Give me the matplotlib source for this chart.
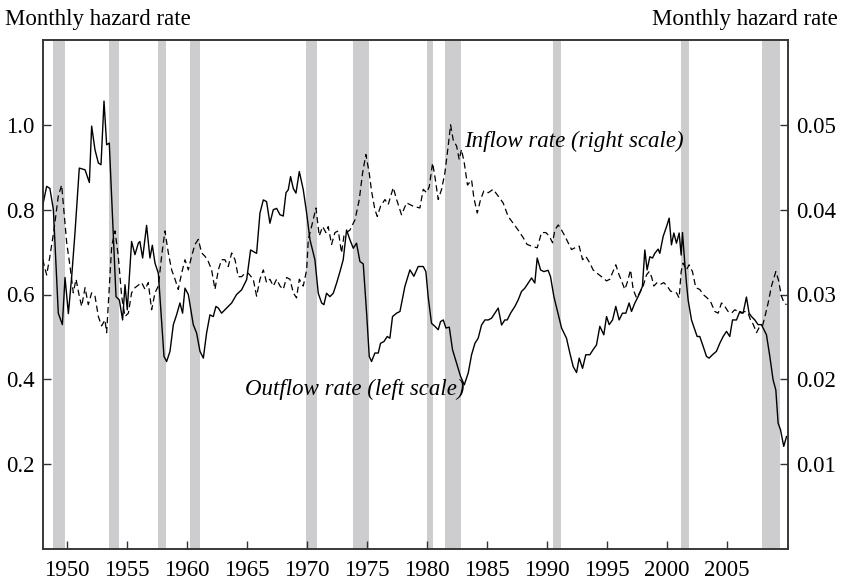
import matplotlib
matplotlib.use("Agg")
import matplotlib.pyplot as plt

plt.rcParams['font.family'] = 'serif'
plt.rcParams['font.serif'] = ['Liberation Serif', 'DejaVu Serif']

# Outflow rate (left scale)
out_years = [1948.0, 1948.33, 1948.6, 1948.89, 1949.3, 1949.64, 1949.86, 1950.14, 1950.41, 1950.69,
             1951.05, 1951.53, 1951.89, 1952.08, 1952.36, 1952.64, 1952.86, 1953.11, 1953.33, 1953.55,
             1953.83, 1954.11, 1954.39, 1954.66, 1954.86, 1955.05, 1955.41, 1955.69, 1955.97, 1956.1,
             1956.33, 1956.66, 1956.94, 1957.14, 1957.36, 1957.64, 1958.11, 1958.33, 1958.61, 1958.89,
             1959.16, 1959.44, 1959.66, 1959.86, 1960.14, 1960.55, 1960.83, 1961.11, 1961.39, 1961.66,
             1961.94, 1962.22, 1962.44, 1962.64, 1962.91, 1963.33, 1963.75, 1964.16, 1964.58, 1965.0,
             1965.33, 1965.83, 1966.11, 1966.39, 1966.66, 1966.94, 1967.22, 1967.5, 1967.78, 1968.05,
             1968.28, 1968.47, 1968.66, 1968.89, 1969.11, 1969.39, 1969.72, 1970.0, 1970.28, 1970.69,
             1970.97, 1971.25, 1971.44, 1971.66, 1971.94, 1972.22, 1972.5, 1972.78, 1973.05, 1973.33,
             1973.61, 1973.89, 1974.16, 1974.44, 1974.72, 1975.0, 1975.22, 1975.41, 1975.69, 1975.97,
             1976.16, 1976.44, 1976.72, 1976.94, 1977.16, 1977.5, 1977.78, 1978.19, 1978.61, 1978.94,
             1979.3, 1979.72, 1979.94, 1980.13, 1980.41, 1980.69, 1980.97, 1981.16, 1981.39, 1981.61,
             1981.89, 1982.16, 1982.5, 1982.83, 1983.14, 1983.47, 1983.75, 1984.03, 1984.3, 1984.58,
             1984.86, 1985.14, 1985.41, 1985.69, 1985.97, 1986.25, 1986.52, 1986.72, 1987.0, 1987.36,
             1987.63, 1987.91, 1988.19, 1988.47, 1988.75, 1989.02, 1989.22, 1989.5, 1989.77, 1990.13,
             1990.33, 1990.61, 1990.88, 1991.25, 1991.66, 1991.94, 1992.22, 1992.5, 1992.72, 1993.0,
             1993.27, 1993.61, 1993.88, 1994.16, 1994.44, 1994.77, 1995.0, 1995.22, 1995.5, 1995.77,
             1996.05, 1996.33, 1996.61, 1996.88, 1997.08, 1997.36, 1997.63, 1997.99, 1998.19, 1998.38,
             1998.61, 1998.83, 1999.02, 1999.3, 1999.44, 1999.72, 2000.0, 2000.22, 2000.41, 2000.61,
             2000.83, 2001.05, 2001.22, 2001.33, 2001.52, 2001.66, 2001.8, 2002.08, 2002.36, 2002.55,
             2002.77, 2003.05, 2003.33, 2003.55, 2003.83, 2004.16, 2004.44, 2004.72, 2005.0, 2005.27,
             2005.5, 2005.83, 2006.11, 2006.38, 2006.66, 2006.88, 2007.08, 2007.36, 2007.63, 2007.91,
             2008.33, 2008.61, 2008.88, 2009.11, 2009.3, 2009.5, 2009.77, 2010.0]
outflow = [0.81, 0.855, 0.85, 0.80, 0.556, 0.529, 0.64, 0.555, 0.64, 0.745,
           0.898, 0.894, 0.864, 0.997, 0.941, 0.91, 0.906, 1.056, 0.953, 0.957,
           0.776, 0.595, 0.587, 0.54, 0.623, 0.564, 0.725, 0.694, 0.721, 0.725,
           0.686, 0.763, 0.686, 0.716, 0.674, 0.65, 0.454, 0.442, 0.466, 0.529,
           0.552, 0.58, 0.556, 0.615, 0.60, 0.529, 0.509, 0.466, 0.45, 0.509,
           0.552, 0.548, 0.572, 0.568, 0.556, 0.568, 0.58, 0.60, 0.611, 0.635,
           0.705, 0.697, 0.792, 0.823, 0.819, 0.768, 0.80, 0.803, 0.788, 0.785,
           0.84, 0.847, 0.878, 0.85, 0.839, 0.89, 0.847, 0.792, 0.729, 0.682,
           0.603, 0.58, 0.576, 0.603, 0.595, 0.603, 0.627, 0.654, 0.682, 0.752,
           0.729, 0.709, 0.721, 0.678, 0.672, 0.556, 0.454, 0.442, 0.462, 0.462,
           0.485, 0.489, 0.501, 0.497, 0.548, 0.556, 0.56, 0.619, 0.658, 0.643,
           0.666, 0.666, 0.654, 0.595, 0.532, 0.525, 0.517, 0.536, 0.54, 0.521,
           0.523, 0.47, 0.438, 0.407, 0.387, 0.415, 0.458, 0.485, 0.497, 0.528,
           0.54, 0.54, 0.544, 0.556, 0.568, 0.528, 0.54, 0.54, 0.556, 0.572,
           0.587, 0.607, 0.615, 0.627, 0.639, 0.627, 0.686, 0.658, 0.654, 0.657,
           0.642, 0.595, 0.564, 0.521, 0.497, 0.462, 0.43, 0.416, 0.45, 0.426,
           0.458, 0.458, 0.47, 0.481, 0.525, 0.505, 0.548, 0.529, 0.54, 0.572,
           0.54, 0.556, 0.556, 0.58, 0.56, 0.58, 0.595, 0.619, 0.705, 0.658,
           0.689, 0.686, 0.697, 0.707, 0.697, 0.737, 0.76, 0.78, 0.717, 0.745,
           0.721, 0.745, 0.693, 0.746, 0.674, 0.627, 0.587, 0.54, 0.517, 0.501,
           0.501, 0.478, 0.454, 0.45, 0.458, 0.466, 0.485, 0.501, 0.513, 0.501,
           0.54, 0.54, 0.56, 0.556, 0.594, 0.556, 0.548, 0.54, 0.529, 0.529,
           0.505, 0.454, 0.399, 0.375, 0.297, 0.281, 0.242, 0.265]

# Inflow rate (right scale)
in_years = [1948.0, 1948.33, 1948.6, 1948.94, 1949.3, 1949.58, 1949.78, 1950.0, 1950.28, 1950.55,
            1950.78, 1951.05, 1951.25, 1951.53, 1951.8, 1952.08, 1952.36, 1952.64, 1952.91, 1953.19,
            1953.33, 1953.75, 1954.03, 1954.3, 1954.58, 1954.86, 1955.14, 1955.41, 1955.69, 1956.25,
            1956.53, 1956.8, 1957.08, 1957.36, 1957.64, 1957.91, 1958.19, 1958.47, 1958.75, 1959.03,
            1959.3, 1959.58, 1959.86, 1960.14, 1960.41, 1960.69, 1960.97, 1961.25, 1961.53, 1961.8,
            1962.08, 1962.36, 1962.64, 1962.91, 1963.19, 1963.47, 1963.75, 1964.03, 1964.3, 1964.58,
            1964.86, 1965.14, 1965.55, 1965.83, 1966.11, 1966.39, 1966.66, 1966.94, 1967.22, 1967.5,
            1967.78, 1968.05, 1968.33, 1968.61, 1968.89, 1969.16, 1969.39, 1969.72, 1970.0, 1970.14,
            1970.41, 1970.78, 1971.05, 1971.33, 1971.61, 1971.8, 1972.08, 1972.36, 1972.64, 1972.91,
            1973.11, 1973.33, 1973.61, 1974.03, 1974.39, 1974.66, 1974.94, 1975.22, 1975.41, 1975.69,
            1975.89, 1976.16, 1976.53, 1976.8, 1977.22, 1977.5, 1977.91, 1978.33, 1978.89, 1979.44,
            1979.72, 1980.0, 1980.22, 1980.5, 1980.69, 1980.97, 1981.25, 1981.52, 1981.8, 1982.0,
            1982.22, 1982.5, 1982.72, 1982.91, 1983.14, 1983.41, 1983.75, 1983.94, 1984.22, 1984.5,
            1984.77, 1985.14, 1985.55, 1985.97, 1986.38, 1986.8, 1987.22, 1987.63, 1988.05, 1988.38,
            1988.75, 1989.22, 1989.58, 1989.94, 1990.22, 1990.5, 1990.69, 1990.97, 1991.25, 1991.52,
            1991.8, 1992.08, 1992.36, 1992.72, 1993.0, 1993.27, 1993.61, 1993.88, 1994.22, 1994.58,
            1995.0, 1995.27, 1995.77, 1996.05, 1996.25, 1996.52, 1996.72, 1997.0, 1997.22, 1997.5,
            1997.77, 1998.05, 1998.33, 1998.55, 1998.75, 1998.94, 1999.22, 1999.5, 1999.77, 2000.05,
            2000.33, 2000.83, 2001.05, 2001.22, 2001.38, 2001.66, 2001.88, 2002.16, 2002.44, 2002.77,
            2003.05, 2003.38, 2003.66, 2004.02, 2004.3, 2004.58, 2004.86, 2005.13, 2005.41, 2005.69,
            2005.97, 2006.25, 2006.52, 2006.8, 2007.0, 2007.22, 2007.5, 2007.72, 2008.0, 2008.27,
            2008.47, 2008.75, 2009.11, 2009.33, 2009.58, 2009.8, 2010.0]
inflow = [0.0341, 0.0323, 0.0345, 0.0376, 0.0416, 0.0429, 0.0396, 0.0361, 0.0333, 0.0302,
          0.0318, 0.0298, 0.0286, 0.0308, 0.0288, 0.0302, 0.0298, 0.0274, 0.0263, 0.0270,
          0.0255, 0.0357, 0.0375, 0.0345, 0.0298, 0.0274, 0.0278, 0.0302, 0.0308, 0.0314,
          0.0306, 0.0314, 0.0282, 0.0302, 0.0310, 0.0345, 0.0375, 0.0349, 0.0329, 0.0318,
          0.0306, 0.0325, 0.0341, 0.0329, 0.0345, 0.0359, 0.0365, 0.0349, 0.0345, 0.0339,
          0.0329, 0.0306, 0.0329, 0.0341, 0.0341, 0.0333, 0.0349, 0.0341, 0.0321, 0.0321,
          0.0325, 0.0325, 0.0318, 0.0298, 0.0318, 0.0329, 0.0314, 0.0318, 0.0310, 0.0318,
          0.0310, 0.0306, 0.0320, 0.0318, 0.0302, 0.0296, 0.0318, 0.0310, 0.0329, 0.0365,
          0.0380, 0.0402, 0.0369, 0.0380, 0.0373, 0.0380, 0.0359, 0.0373, 0.0375, 0.0349,
          0.0369, 0.0373, 0.0376, 0.0388, 0.0412, 0.0443, 0.0465, 0.0443, 0.0422, 0.0400,
          0.0392, 0.0404, 0.0412, 0.0406, 0.0426, 0.0412, 0.0394, 0.0408, 0.0404, 0.0402,
          0.0424, 0.0420, 0.0427, 0.0455, 0.0439, 0.0412, 0.0424, 0.0443, 0.0475, 0.0500,
          0.0482, 0.0475, 0.0459, 0.0471, 0.0455, 0.0429, 0.0435, 0.0414, 0.0396, 0.0412,
          0.0422, 0.0420, 0.0424, 0.0416, 0.0408, 0.0392, 0.0384, 0.0376, 0.0367, 0.0359,
          0.0357, 0.0355, 0.0373, 0.0373, 0.0369, 0.0361, 0.0376, 0.0382, 0.0376, 0.0369,
          0.0361, 0.0353, 0.0355, 0.0357, 0.0341, 0.0345, 0.0337, 0.0329, 0.0325, 0.0321,
          0.0316, 0.0318, 0.0335, 0.0323, 0.0316, 0.0306, 0.0314, 0.0329, 0.0306, 0.0296,
          0.0302, 0.0310, 0.0323, 0.0327, 0.0321, 0.0310, 0.0314, 0.0312, 0.0314, 0.0310,
          0.0304, 0.0302, 0.0296, 0.0327, 0.0337, 0.0329, 0.0335, 0.0327, 0.0308, 0.0306,
          0.0300, 0.0296, 0.0292, 0.0280, 0.0278, 0.0290, 0.0286, 0.0280, 0.0278, 0.0282,
          0.0280, 0.0278, 0.0280, 0.0278, 0.0270, 0.0265, 0.0255, 0.0261, 0.0263, 0.0278,
          0.0290, 0.0310, 0.0327, 0.0317, 0.0298, 0.0290, 0.0288]

# NBER recessions (peak, trough)
recessions = [(1948.83, 1949.83), (1953.5, 1954.38), (1957.58, 1958.29), (1960.29, 1961.13),
              (1969.92, 1970.88), (1973.83, 1975.21), (1980.0, 1980.54), (1981.5, 1982.88),
              (1990.5, 1991.21), (2001.17, 2001.88), (2007.92, 2009.46)]

left_ticks = [0.2, 0.4, 0.6, 0.8, 1.0]
right_ticks = [0.01, 0.02, 0.03, 0.04, 0.05]
year_ticks = list(range(1950, 2006, 5))

fig = plt.figure(figsize=(8.42, 5.81), dpi=100)
ax = fig.add_axes([42.7 / 842, 1 - 549 / 581, 745 / 842, 509 / 581])
ax2 = ax.twinx()

for a, b in recessions:
    ax.axvspan(a, b, color='#cdcdd0', lw=0, zorder=0)

ax.plot(out_years, outflow, color='black', lw=1.0, zorder=3)
ax2.plot(in_years, inflow, color='black', lw=0.9, linestyle=(0, (5, 3)), zorder=3)

ax.set_xlim(1948, 2010.1)
ax.set_ylim(0, 1.2)
ax2.set_ylim(0, 0.06)

ax.set_xticks(year_ticks)
ax.set_yticks(left_ticks)
ax.set_yticklabels([f'{v:.1f}' for v in left_ticks])
ax2.set_yticks(right_ticks)
ax2.set_yticklabels([f'{v:.2f}' for v in right_ticks])

for a in (ax, ax2):
    a.tick_params(direction='in', length=6, width=1, color='#333333', labelsize=16.5)
    for s in a.spines.values():
        s.set_color('#333333')
        s.set_linewidth(1.1)
ax.tick_params(axis='x', pad=8)
ax.tick_params(axis='y', pad=6)
ax2.tick_params(axis='y', pad=6)

ax.text(1983.1, 0.962, 'Inflow rate (right scale)', style='italic', fontsize=16.5,
        va='center', ha='left', zorder=5)
ax.text(1964.85, 0.376, 'Outflow rate (left scale)', style='italic', fontsize=16.5,
        va='center', ha='left', zorder=5)

fig.text(5 / 842, 1 - 20 / 581, 'Monthly hazard rate', fontsize=16.5, ha='left', va='center')
fig.text(838 / 842, 1 - 20 / 581, 'Monthly hazard rate', fontsize=16.5, ha='right', va='center')

fig.savefig('out.png', dpi=100)
